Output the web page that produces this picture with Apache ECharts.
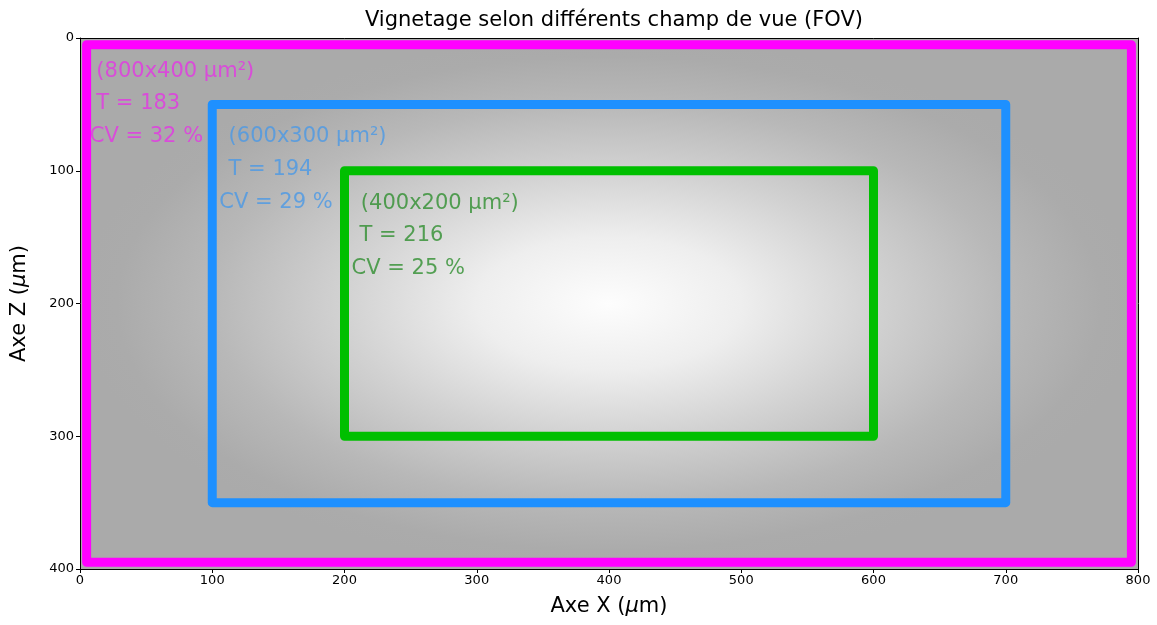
<!DOCTYPE html>
<html>
<head>
<meta charset="utf-8">
<title>Vignetage FOV</title>
<script src="https://cdn.jsdelivr.net/npm/echarts@6/dist/echarts.min.js"></script>
<style>
  html, body { margin: 0; padding: 0; background: #fff; }
  #chart { width: 1157px; height: 625px; }
</style>
</head>
<body>
<div id="chart"></div>
<script>
// field of view boxes (um), outer -> inner
const fovSizes = ['800x400', '600x300', '400x200'];
const boxX0 = [5, 100, 200];
const boxX1 = [795, 700, 600];
const boxZ0 = [5, 50, 100];
const boxZ1 = [395, 350, 300];
const tValues = [183, 194, 216];
const cvValues = [32, 29, 25];

// image extent in um
const imageX = [0, 800];
const imageZ = [0, 400];

const xTicks = [0, 100, 200, 300, 400, 500, 600, 700, 800];
const zTicks = [0, 100, 200, 300, 400];

// style bits
const boxColors = ['#ff00ff', '#1e90ff', '#00bf00'];
const textColors = ['#e535e5', '#4a98e6', '#2f8f2f'];
// where each annotation line starts (um): [size line, T line, CV line]
const textX = [[12, 12, 7], [112, 112, 105], [212, 211, 205]];
const textZ = [[25, 49, 74], [74, 99, 124], [125, 149, 174]];

const vignetteStops = [
    [0, '#fdfdfd'],
    [0.25, '#eeeeee'],
    [0.5, '#d2d2d2'],
    [0.75, '#b8b8b8'],
    [0.93, '#ababab'],
    [1, '#aaaaaa']
];

const chart = echarts.init(document.getElementById('chart'));

const series = [];

// vignetting background image (elliptical radial gradient)
series.push({
    type: 'custom',
    silent: true,
    z: 1,
    data: [[imageX[0], imageZ[0], imageX[1], imageZ[1]]],
    renderItem: function (params, api) {
        const p0 = api.coord([api.value(0), api.value(1)]);
        const p1 = api.coord([api.value(2), api.value(3)]);
        const w = Math.abs(p1[0] - p0[0]);
        const h = Math.abs(p1[1] - p0[1]);
        const cx = (p0[0] + p1[0]) / 2;
        const cy = (p0[1] + p1[1]) / 2;
        return {
            type: 'rect',
            x: cx,
            y: cy,
            scaleX: w / h,
            shape: { x: -h / 2, y: -h / 2, width: h, height: h },
            style: {
                fill: new echarts.graphic.RadialGradient(0.5, 0.5, 0.5,
                    vignetteStops.map(s => ({ offset: s[0], color: s[1] })))
            }
        };
    }
});

// FOV rectangles
fovSizes.forEach((name, i) => {
    series.push({
        type: 'line',
        name: name,
        z: 3,
        symbol: 'none',
        silent: true,
        lineStyle: { color: boxColors[i], width: 9, join: 'round', cap: 'round' },
        data: [
            [boxX0[i], boxZ0[i]],
            [boxX1[i], boxZ0[i]],
            [boxX1[i], boxZ1[i]],
            [boxX0[i], boxZ1[i]],
            [boxX0[i], boxZ0[i]]
        ]
    });
});

// annotations
fovSizes.forEach((name, i) => {
    const lines = ['(' + name + ' \u00b5m\u00b2)', 'T = ' + tValues[i], 'CV = ' + cvValues[i] + ' %'];
    series.push({
        type: 'scatter',
        z: 4,
        silent: true,
        symbolSize: 1,
        itemStyle: { color: 'rgba(0,0,0,0)' },
        label: {
            show: true,
            position: 'right',
            distance: 0,
            color: textColors[i],
            fontFamily: 'DejaVu Sans',
            fontSize: 21,
            formatter: p => p.data[2]
        },
        data: lines.map((t, k) => [textX[i][k], textZ[i][k], t])
    });
});

const axisFont = { color: '#000', fontFamily: 'DejaVu Sans', fontSize: 13 };
const nameFont = {
    color: '#000', fontFamily: 'DejaVu Sans', fontSize: 21,
    rich: { i: { fontStyle: 'italic', fontFamily: 'DejaVu Sans', fontSize: 21, color: '#000' } }
};

chart.setOption({
    animation: false,
    backgroundColor: '#fff',
    title: {
        text: 'Vignetage selon différents champ de vue (FOV)',
        left: 609,
        textAlign: 'center',
        top: 5,
        textStyle: { color: '#000', fontFamily: 'DejaVu Sans', fontSize: 21, fontWeight: 'normal' }
    },
    grid: { left: 80, right: 19, top: 38, bottom: 56 },
    xAxis: [{
        type: 'value',
        min: imageX[0],
        max: imageX[1],
        interval: xTicks[1] - xTicks[0],
        z: 10,
        name: 'Axe X ({i|\u03bc}m)',
        nameLocation: 'middle',
        nameGap: 27,
        nameTextStyle: nameFont,
        axisLine: { show: true, onZero: false, lineStyle: { color: '#000', width: 1 } },
        axisTick: { show: true, length: 4, lineStyle: { color: '#000' } },
        axisLabel: Object.assign({ margin: 5 }, axisFont),
        splitLine: { show: false }
    }, {
        type: 'value',
        position: 'top',
        min: imageX[0],
        max: imageX[1],
        z: 10,
        axisLine: { show: true, onZero: false, lineStyle: { color: '#000', width: 1 } },
        axisTick: { show: false },
        axisLabel: { show: false },
        splitLine: { show: false }
    }],
    yAxis: [{
        type: 'value',
        inverse: true,
        min: imageZ[0],
        max: imageZ[1],
        interval: zTicks[1] - zTicks[0],
        z: 10,
        name: 'Axe Z ({i|\u03bc}m)',
        nameLocation: 'middle',
        nameGap: 50,
        nameTextStyle: nameFont,
        axisLine: { show: true, onZero: false, lineStyle: { color: '#000', width: 1 } },
        axisTick: { show: true, length: 4, lineStyle: { color: '#000' } },
        axisLabel: Object.assign({ margin: 6 }, axisFont),
        splitLine: { show: false }
    }, {
        type: 'value',
        position: 'right',
        inverse: true,
        min: imageZ[0],
        max: imageZ[1],
        z: 10,
        axisLine: { show: true, onZero: false, lineStyle: { color: '#000', width: 1 } },
        axisTick: { show: false },
        axisLabel: { show: false },
        splitLine: { show: false }
    }],
    series: series
});

window.addEventListener('resize', chart.resize);
</script>
</body>
</html>
